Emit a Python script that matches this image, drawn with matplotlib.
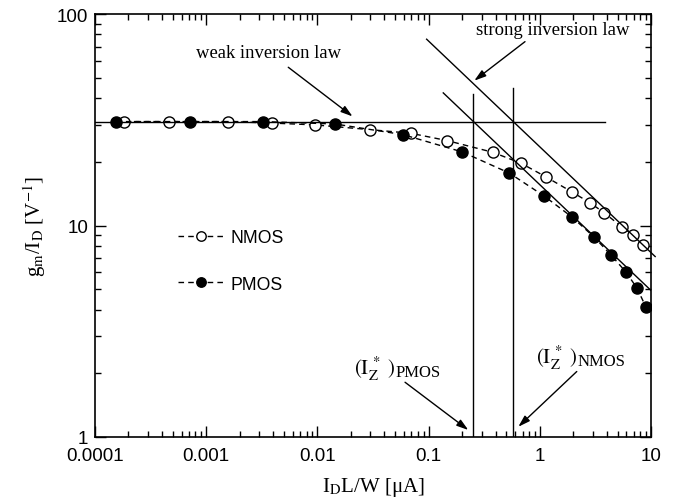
import numpy as np
import matplotlib
matplotlib.use('Agg')
import matplotlib.pyplot as plt
from matplotlib.ticker import LogLocator, FixedLocator, FixedFormatter, NullFormatter

plt.rcParams['font.family'] = 'Liberation Sans'
plt.rcParams['mathtext.fontset'] = 'stix'

nmos_x = [0.000183, 0.00046, 0.00158, 0.00391, 0.0095, 0.0297, 0.069, 0.147,
          0.377, 0.678, 1.13, 1.95, 2.83, 3.78, 5.48, 6.89, 8.47]
nmos_y = [31.0, 31.0, 31.0, 30.5, 29.9, 28.4, 27.3, 25.2,
          22.2, 19.7, 17.0, 14.4, 12.8, 11.5, 9.84, 9.02, 8.09]

pmos_x = [0.000155, 0.00072, 0.00322, 0.0144, 0.0589, 0.1995, 0.532,
          1.09, 1.95, 3.07, 4.37, 5.96, 7.48, 9.0]
pmos_y = [31.0, 31.0, 31.0, 30.2, 26.9, 22.3, 17.7,
          13.8, 10.96, 8.83, 7.25, 6.02, 5.06, 4.12]

# asymptotes
weak_level = 31.0
weak_x = [0.0001, 3.86]
iz_nmos = 0.577
iz_pmos = 0.253
strong_n_x = [0.096, 10.9]
strong_p_x = [0.1355, 10.0]
vline_top_p = 41.9
vline_top_n = 44.6

fig = plt.figure(figsize=(6.77, 5.02), dpi=100)
ax = fig.add_axes([95 / 677, 1 - 438 / 502, 556 / 677, 423 / 502])
ax.set_xscale('log')
ax.set_yscale('log')
ax.set_xlim(0.0001, 10)
ax.set_ylim(1, 100)

# data curves
ax.plot(nmos_x, nmos_y, '--', color='black', lw=1.0, marker='o', ms=8,
        mfc='white', mec='black', mew=1.0, label='NMOS', dashes=(4, 3))
ax.plot(pmos_x, pmos_y, '--', color='black', lw=1.0, marker='o', ms=8,
        mfc='black', mec='black', label='PMOS', dashes=(4, 3))

# weak inversion law
ax.plot(weak_x, [weak_level, weak_level], color='black', lw=1.0)

# strong inversion laws, slope -1/2
sx = np.array(strong_n_x)
ax.plot(sx, weak_level * np.sqrt(iz_nmos / sx), color='black', lw=1.0, clip_on=False)
sx = np.array(strong_p_x)
ax.plot(sx, weak_level * np.sqrt(iz_pmos / sx), color='black', lw=1.0)

# I_Z* verticals
ax.plot([iz_pmos, iz_pmos], [1, vline_top_p], color='black', lw=1.0)
ax.plot([iz_nmos, iz_nmos], [1, vline_top_n], color='black', lw=1.0)

# annotations
arrow = dict(arrowstyle='-|>,head_length=0.7,head_width=0.22', color='black',
             lw=1.0, shrinkA=0, shrinkB=0)
serif = 'Liberation Serif'
ax.text(0.00367, 65.9, 'weak inversion law', family=serif, fontsize=13.4,
        ha='center', va='center')
ax.annotate('', xy=(0.0207, 32.8), xytext=(0.00547, 56.0), arrowprops=arrow)
ax.text(1.31, 84.3, 'strong inversion law', family=serif, fontsize=13.5,
        ha='center', va='center')
ax.annotate('', xy=(0.2576, 48.4), xytext=(0.736, 74.0), arrowprops=arrow)

# (I_Z*) labels: main part right of anchor, device name as a lowered suffix
for lx, ly, dev in [(0.0499, 1.99, 'PMOS'), (2.16, 2.24, 'NMOS')]:
    ax.text(lx, ly, r'$\mathrm{(I_Z^{\,*}\ )}$', fontsize=15, ha='right',
            va='baseline')
    ax.annotate(dev, xy=(lx, ly), xytext=(0.5, -1.5), textcoords='offset points',
                family=serif, fontsize=12, ha='left', va='baseline')
ax.annotate('', xy=(0.2275, 1.079), xytext=(0.0614, 1.815), arrowprops=arrow)
ax.annotate('', xy=(0.641, 1.118), xytext=(2.15, 2.04), arrowprops=arrow)

# legend
ax.legend(loc='upper left', bbox_to_anchor=(0.12, 0.53), frameon=False,
          numpoints=1, handlelength=2.6, handletextpad=0.4, labelspacing=1.7,
          fontsize=12.7, markerscale=0.85)

# ticks
ax.tick_params(which='both', direction='in', top=True, right=True,
               labelsize=13.5)
ax.tick_params(axis='x', pad=7)
ax.tick_params(axis='y', pad=5)
ax.tick_params(which='major', length=8, width=1.0)
ax.tick_params(which='minor', length=4.5, width=1.0)
ax.xaxis.set_major_locator(FixedLocator([0.0001, 0.001, 0.01, 0.1, 1, 10]))
ax.xaxis.set_major_formatter(FixedFormatter(['0.0001', '0.001', '0.01', '0.1', '1', '10']))
ax.xaxis.set_minor_locator(LogLocator(base=10, subs=np.arange(2, 10), numticks=20))
ax.xaxis.set_minor_formatter(NullFormatter())
ax.yaxis.set_major_locator(FixedLocator([1, 10, 100]))
ax.yaxis.set_major_formatter(FixedFormatter(['1', '10', '100']))
ax.yaxis.set_minor_locator(LogLocator(base=10, subs=np.arange(2, 10), numticks=20))
ax.yaxis.set_minor_formatter(NullFormatter())
for sp in ax.spines.values():
    sp.set_linewidth(1.2)

ax.set_xlabel(r'I$_\mathrm{D}$L/W [μA]', family=serif, fontsize=15, labelpad=8)
ax.set_ylabel(r'g$_\mathrm{m}$/I$_\mathrm{D}$ [V$^\mathrm{-1}$]', family=serif,
              fontsize=15, labelpad=6)

fig.savefig('out.png', dpi=100)
